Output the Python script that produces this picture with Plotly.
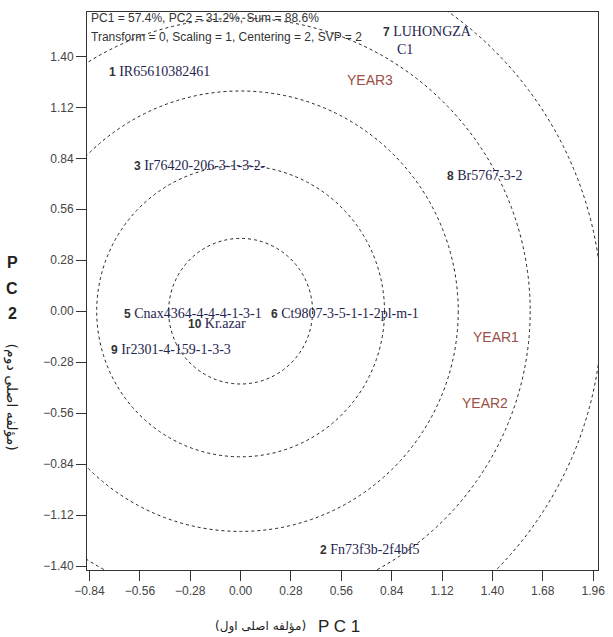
import numpy as np
import plotly.graph_objects as go

# ---- data ----
genotype_ids = [1, 2, 3, 5, 6, 7, 8, 9, 10]
genotype_names = ["IR65610382461", "Fn73f3b-2f4bf5", "Ir76420-206-3-1-3-2-",
                  "Cnax4364-4-4-4-1-3-1", "Ct9807-3-5-1-1-2pl-m-1",
                  "LUHONGZA<br>&nbsp;&nbsp;&nbsp;&nbsp;C1", "Br5767-3-2",
                  "Ir2301-4-159-1-3-3", "Kr.azar"]
genotype_pc1 = [-0.741, 0.428, -0.604, -0.659, 0.159, 0.779, 1.136, -0.730, -0.302]
genotype_pc2 = [1.316, -1.312, 0.798, -0.015, -0.015, 1.487, 0.748, -0.213, -0.070]

env_names = ["YEAR1", "YEAR2", "YEAR3"]
env_pc1 = [1.42, 1.36, 0.718]
env_pc2 = [-0.14, -0.505, 1.271]

circle_radii = [0.40, 0.80, 1.21, 1.61, 2.01]

tick_vals = [-1.40, -1.12, -0.84, -0.56, -0.28, 0.00, 0.28, 0.56, 0.84, 1.12, 1.40, 1.68, 1.96]

info_lines = ["PC1 = 57.4%, PC2 = 31.2%, Sum = 88.6%",
              "Transform = 0, Scaling = 1, Centering = 2, SVP = 2"]

x_range = [-0.854, 1.987]
y_range = [-1.422, 1.644]

fig = go.Figure()

# invisible trace so the axes are active
fig.add_trace(go.Scatter(x=genotype_pc1 + env_pc1, y=genotype_pc2 + env_pc2,
                         mode="markers", marker=dict(size=1, color="rgba(0,0,0,0)"),
                         hoverinfo="skip", showlegend=False))

# concentric dashed circles
for r in circle_radii:
    fig.add_shape(type="circle", xref="x", yref="y", x0=-r, y0=-r, x1=r, y1=r,
                  line=dict(color="#222222", width=1, dash="3px,3px"), layer="below")

# genotype labels
for gid, name, gx, gy in zip(genotype_ids, genotype_names, genotype_pc1, genotype_pc2):
    txt = (f"<span style='font-family:Liberation Sans;font-weight:bold;font-size:12px;color:#333'>{gid}</span>"
           f" {name}")
    fig.add_annotation(x=gx, y=gy, xref="x", yref="y", text=txt, showarrow=False,
                       xanchor="left", yanchor="middle", align="left",
                       font=dict(family="Liberation Serif", size=14, color="#1f2550"))

# environment labels
for en, ex, ey in zip(env_names, env_pc1, env_pc2):
    fig.add_annotation(x=ex, y=ey, xref="x", yref="y", text=en, showarrow=False,
                       xanchor="center", yanchor="middle",
                       font=dict(family="Liberation Sans", size=14, color="#9b4f45"))

# info text top-left
for line, py in zip(info_lines, [0.9887, 0.9557]):
    fig.add_annotation(x=0.004, y=py, xref="paper", yref="paper", text=line,
                       showarrow=False, xanchor="left", yanchor="middle",
                       font=dict(family="Liberation Sans", size=12, color="#333333"))

# axis titles
fig.add_annotation(x=0.449, y=-0.102, xref="paper", yref="paper", text="P C 1",
                   showarrow=False, xanchor="left", yanchor="middle",
                   font=dict(family="Liberation Sans", size=17, color="#222222"))
fig.add_annotation(x=0.432, y=-0.102, xref="paper", yref="paper", text="(مؤلفه اصلی اول)",
                   showarrow=False, xanchor="right", yanchor="middle",
                   font=dict(family="DejaVu Sans", size=12, color="#222222"))
for letter, py in zip(["P", "C", "2"], [262, 288, 313]):
    fig.add_annotation(x=-0.146, y=1 - (py - 12) / 558, xref="paper", yref="paper",
                       text=f"<b>{letter}</b>", showarrow=False,
                       xanchor="center", yanchor="middle",
                       font=dict(family="Liberation Sans", size=16, color="#222222"))
fig.add_annotation(x=-0.146, y=1 - (397 - 12) / 558, xref="paper", yref="paper",
                   text="(مؤلفه اصلی دوم)", showarrow=False, textangle=90,
                   xanchor="center", yanchor="middle",
                   font=dict(family="DejaVu Sans", size=14, color="#222222"))

axis_common = dict(showgrid=False, zeroline=False, showline=True, mirror=True,
                   linecolor="#333333", linewidth=1, ticks="outside", ticklen=10,
                   tickcolor="#333333", tickwidth=1, tickformat=".2f",
                   tickfont=dict(family="Liberation Sans", size=12, color="#444444"))

fig.update_xaxes(range=x_range, tickvals=[v for v in tick_vals if v >= -0.84], **axis_common)
fig.update_yaxes(range=y_range, tickvals=tick_vals, **axis_common)

fig.update_layout(width=613, height=637, plot_bgcolor="white", paper_bgcolor="white",
                  margin=dict(l=87, r=8, t=12, b=67), showlegend=False)

fig.write_html("out.html", config={"displayModeBar": False},
               post_script="document.body.style.margin='0';")
